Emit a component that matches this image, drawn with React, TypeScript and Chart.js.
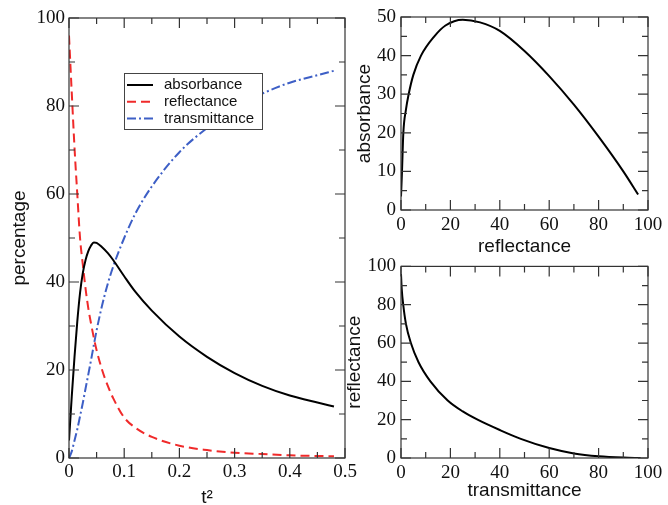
import React, { useEffect, useRef } from 'react';
import { Chart, registerables } from 'chart.js';

// ---------- data ----------
const T_SQUARED = [0, 0.005, 0.01, 0.015, 0.02, 0.025, 0.03, 0.035, 0.04, 0.045, 0.05, 0.06, 0.07, 0.08, 0.1, 0.12, 0.15, 0.2, 0.25, 0.3, 0.35, 0.4, 0.45, 0.48];
const ABSORBANCE = [4, 14, 23, 31, 37.5, 42, 45, 47, 48.3, 49, 48.9, 47.9, 46.6, 45, 41.3, 37.8, 33.5, 27.6, 23, 19.3, 16.4, 14.2, 12.6, 11.7];
const REFLECTANCE = [96, 83, 70.5, 60, 50, 44, 38.5, 34, 30.5, 27.3, 24.5, 20, 16.5, 13.6, 9.2, 6.9, 4.8, 2.8, 1.8, 1.2, 0.9, 0.6, 0.45, 0.4];
const TRANSMITTANCE = [0, 1.5, 4, 6.5, 9.5, 12.5, 15.8, 19, 22.3, 25.7, 29, 34.7, 39.5, 43.5, 50, 55.5, 61.7, 69.5, 75, 79.5, 82.8, 85.3, 87, 88];

// absorbance vs reflectance (top right)
const AR_REFLECTANCE = [0, 0.4, 0.95, 2, 3.1, 5, 8.1, 13.5, 18, 25, 32, 40, 50, 60, 70, 80, 90, 96];
const AR_ABSORBANCE = [3.5, 10, 20, 26, 30, 35, 40, 45, 47.8, 49.3, 48.6, 46.4, 41.2, 34.7, 27.3, 19, 10, 4];

// reflectance vs transmittance (bottom right)
const RT_TRANSMITTANCE = [0, 0.3, 0.9, 2, 4, 7.1, 11.9, 18.9, 25, 31, 40, 48.5, 60, 70, 80, 90, 97];
const RT_REFLECTANCE = [96, 88, 80, 70, 60, 50, 40, 30, 24.3, 20, 14.6, 10, 5.2, 2.4, 0.9, 0.2, 0];

// tick values
const LEFT_X_TICKS = [0, 0.1, 0.2, 0.3, 0.4, 0.5];
const LEFT_Y_TICKS = [0, 20, 40, 60, 80, 100];
const PCT_X_TICKS = [0, 20, 40, 60, 80, 100];
const AR_Y_TICKS = [0, 10, 20, 30, 40, 50];
const RT_Y_TICKS = [0, 20, 40, 60, 80, 100];

// ---------- styling ----------
const SERIF = '"Liberation Serif", "DejaVu Serif", "Times New Roman", serif';
const SANS = '"Liberation Sans", Arial, Helvetica, sans-serif';
const TEXT = '#111';
const FRAME = '#333';

const frameTicksPlugin = {
  id: 'frameTicks',
  afterDatasetsDraw(chart: any, _args: any, opts: any) {
    if (!opts || !opts.xMajor) return;
    const { ctx, chartArea: a } = chart;
    const xs = chart.scales.x;
    const ys = chart.scales.y;
    ctx.save();
    ctx.strokeStyle = FRAME;
    ctx.lineWidth = 1.2;
    ctx.setLineDash([]);
    ctx.strokeRect(a.left, a.top, a.right - a.left, a.bottom - a.top);
    ctx.beginPath();
    const each = (scale: any, major: number, minor: number, fn: (p: number, m: boolean) => void) => {
      const n = Math.round((scale.max - scale.min) / minor);
      const ratio = Math.round(major / minor);
      for (let i = 0; i <= n; i++) {
        const v = scale.min + i * minor;
        fn(scale.getPixelForValue(v), i % ratio === 0);
      }
    };
    each(xs, opts.xMajor, opts.xMinor, (p, m) => {
      const len = m ? 10 : 6;
      ctx.moveTo(p, a.bottom); ctx.lineTo(p, a.bottom - len);
      ctx.moveTo(p, a.top); ctx.lineTo(p, a.top + len);
    });
    each(ys, opts.yMajor, opts.yMinor, (p, m) => {
      const len = m ? 10 : 6;
      ctx.moveTo(a.left, p); ctx.lineTo(a.left + len, p);
      ctx.moveTo(a.right, p); ctx.lineTo(a.right - len, p);
    });
    ctx.stroke();
    ctx.restore();
  },
};

const boxLegendPlugin = {
  id: 'boxLegend',
  afterDatasetsDraw(chart: any, _args: any, opts: any) {
    if (!opts || !opts.display) return;
    const { ctx, chartArea: a } = chart;
    const x0 = a.left + opts.dx;
    const y0 = a.top + opts.dy;
    ctx.save();
    ctx.fillStyle = '#fff';
    ctx.fillRect(x0, y0, opts.w, opts.h);
    ctx.strokeStyle = '#444';
    ctx.lineWidth = 1;
    ctx.strokeRect(x0 + 0.5, y0 + 0.5, opts.w, opts.h);
    chart.data.datasets.forEach((ds: any, i: number) => {
      const cy = y0 + opts.firstRow + i * opts.rowGap;
      ctx.strokeStyle = ds.borderColor;
      ctx.lineWidth = ds.borderWidth;
      ctx.setLineDash(ds.borderDash || []);
      ctx.beginPath();
      ctx.moveTo(x0 + opts.lineX0, cy);
      ctx.lineTo(x0 + opts.lineX1, cy);
      ctx.stroke();
      ctx.setLineDash([]);
      ctx.fillStyle = TEXT;
      ctx.font = `15px ${SANS}`;
      ctx.textBaseline = 'middle';
      ctx.textAlign = 'left';
      ctx.fillText(ds.label, x0 + opts.textX, cy);
    });
    ctx.restore();
  },
};

Chart.register(...registerables, frameTicksPlugin, boxLegendPlugin);

const pts = (xs: number[], ys: number[]) => xs.map((x, i) => ({ x, y: ys[i] }));

const fmt = (v: number) => String(Number(Number(v).toFixed(3)));

function makeScales(p: any) {
  return {
    x: {
      type: 'linear',
      min: p.xMin,
      max: p.xMax,
      afterBuildTicks: (s: any) => { s.ticks = p.xTicks.map((v: number) => ({ value: v })); },
      afterFit: (s: any) => { s.height = p.xHeight; },
      grid: { display: false, drawTicks: false },
      border: { display: false },
      ticks: { font: { family: SERIF, size: 19 }, color: TEXT, padding: p.xPad, maxRotation: 0, autoSkip: false, callback: (v: any) => fmt(v) },
      title: { display: true, text: p.xTitle, color: TEXT, font: { family: SANS, size: 19, lineHeight: 0.8 }, padding: { top: 0, bottom: p.xTitlePad } },
    },
    y: {
      type: 'linear',
      min: p.yMin,
      max: p.yMax,
      afterBuildTicks: (s: any) => { s.ticks = p.yTicks.map((v: number) => ({ value: v })); },
      afterFit: (s: any) => { s.width = p.yWidth; },
      grid: { display: false, drawTicks: false },
      border: { display: false },
      ticks: { font: { family: SERIF, size: 19 }, color: TEXT, padding: p.yPad, autoSkip: false, callback: (v: any) => fmt(v) },
      title: { display: true, text: p.yTitle, color: TEXT, font: { family: SANS, size: 19, lineHeight: 0.8 }, padding: { top: p.yTitlePad, bottom: 0 } },
    },
  };
}

const lineBase = { pointRadius: 0, borderWidth: 2, cubicInterpolationMode: 'monotone', fill: false };

function leftConfig(): any {
  return {
    type: 'line',
    data: {
      datasets: [
        { ...lineBase, label: 'absorbance', data: pts(T_SQUARED, ABSORBANCE), borderColor: '#000000' },
        { ...lineBase, label: 'reflectance', data: pts(T_SQUARED, REFLECTANCE), borderColor: '#f02a2a', borderDash: [9, 5] },
        { ...lineBase, label: 'transmittance', data: pts(T_SQUARED, TRANSMITTANCE), borderColor: '#3d5fc6', borderDash: [9, 3, 2, 3] },
      ],
    },
    options: {
      animation: false,
      responsive: false,
      maintainAspectRatio: false,
      layout: { padding: { left: 0, right: 20, top: 18, bottom: 0 } },
      plugins: {
        legend: { display: false },
        tooltip: { enabled: false },
        frameTicks: { xMajor: 0.1, xMinor: 0.05, yMajor: 20, yMinor: 10 },
        boxLegend: { display: true, dx: 55, dy: 55, w: 138, h: 56, firstRow: 12, rowGap: 16.7, lineX0: 3, lineX1: 29, textX: 40 },
      },
      scales: makeScales({
        xMin: 0, xMax: 0.5, xTicks: LEFT_X_TICKS, xHeight: 47, xPad: 3, xTitle: 't²', xTitlePad: 0,
        yMin: 0, yMax: 100, yTicks: LEFT_Y_TICKS, yWidth: 69, yPad: 4, yTitle: 'percentage', yTitlePad: 12,
      }),
    },
  };
}

function topRightConfig(): any {
  return {
    type: 'line',
    data: { datasets: [{ ...lineBase, label: 'absorbance', data: pts(AR_REFLECTANCE, AR_ABSORBANCE), borderColor: '#000000' }] },
    options: {
      animation: false,
      responsive: false,
      maintainAspectRatio: false,
      layout: { padding: { left: 0, right: 20, top: 17, bottom: 0 } },
      plugins: {
        legend: { display: false },
        tooltip: { enabled: false },
        frameTicks: { xMajor: 20, xMinor: 10, yMajor: 10, yMinor: 5 },
      },
      scales: makeScales({
        xMin: 0, xMax: 100, xTicks: PCT_X_TICKS, xHeight: 52, xPad: 4, xTitle: 'reflectance', xTitlePad: 8,
        yMin: 0, yMax: 50, yTicks: AR_Y_TICKS, yWidth: 61, yPad: 5, yTitle: 'absorbance', yTitlePad: 17,
      }),
    },
  };
}

function bottomRightConfig(): any {
  return {
    type: 'line',
    data: { datasets: [{ ...lineBase, label: 'reflectance', data: pts(RT_TRANSMITTANCE, RT_REFLECTANCE), borderColor: '#000000' }] },
    options: {
      animation: false,
      responsive: false,
      maintainAspectRatio: false,
      layout: { padding: { left: 0, right: 20, top: 15, bottom: 0 } },
      plugins: {
        legend: { display: false },
        tooltip: { enabled: false },
        frameTicks: { xMajor: 20, xMinor: 10, yMajor: 20, yMinor: 10 },
      },
      scales: makeScales({
        xMin: 0, xMax: 100, xTicks: PCT_X_TICKS, xHeight: 47, xPad: 4, xTitle: 'transmittance', xTitlePad: 7,
        yMin: 0, yMax: 100, yTicks: RT_Y_TICKS, yWidth: 61, yPad: 5, yTitle: 'reflectance', yTitlePad: 7,
      }),
    },
  };
}

function Panel(props: { left: number; top: number; width: number; height: number; config: () => any }) {
  const ref = useRef<HTMLCanvasElement>(null);
  useEffect(() => {
    const chart = new Chart(ref.current as HTMLCanvasElement, props.config());
    return () => chart.destroy();
  }, []);
  return (
    <canvas
      ref={ref}
      width={props.width}
      height={props.height}
      style={{ position: 'absolute', left: props.left, top: props.top, width: props.width, height: props.height }}
    />
  );
}

export default function App() {
  return (
    <div style={{ position: 'absolute', left: 0, top: 0, width: 668, height: 505, background: '#ffffff', overflow: 'hidden' }}>
      <Panel left={0} top={0} width={365} height={505} config={leftConfig} />
      <Panel left={340} top={0} width={328} height={262} config={topRightConfig} />
      <Panel left={340} top={250} width={328} height={255} config={bottomRightConfig} />
    </div>
  );
}
